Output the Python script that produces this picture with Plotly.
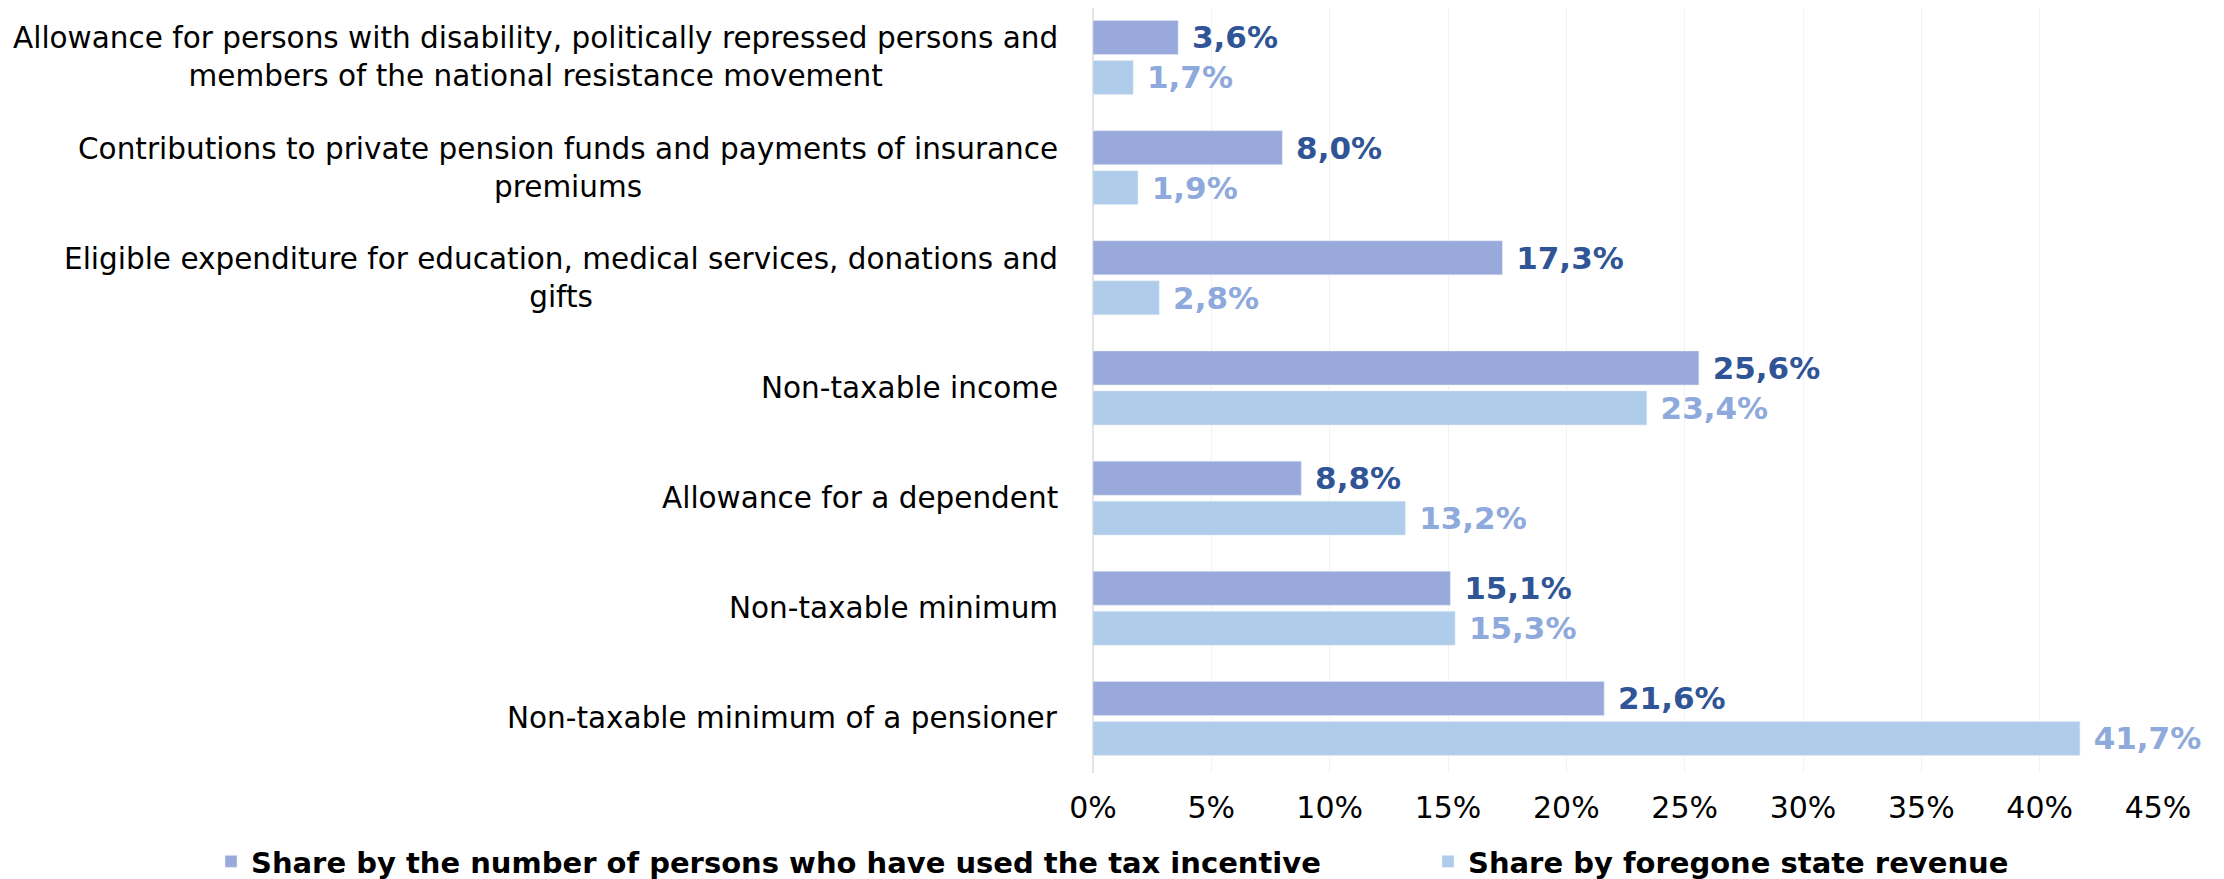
import plotly.graph_objects as go

categories = [
    "Allowance for persons with disability, politically repressed persons and<br>members of the national resistance movement",
    "Contributions to private pension funds and payments of insurance<br>premiums",
    "Eligible expenditure for education, medical services, donations and<br>gifts",
    "Non-taxable income",
    "Allowance for a dependent",
    "Non-taxable minimum",
    "Non-taxable minimum of a pensioner",
]
share_persons = [3.6, 8.0, 17.3, 25.6, 8.8, 15.1, 21.6]
share_revenue = [1.7, 1.9, 2.8, 23.4, 13.2, 15.3, 41.7]
ticks = [0, 5, 10, 15, 20, 25, 30, 35, 40, 45]

FONT = "Verdana, DejaVu Sans, sans-serif"


def fmt(v):
    return "\u00a0" + f"{v:.1f}".replace(".", ",") + "%"


fig = go.Figure()
fig.add_trace(go.Bar(
    y=categories, x=share_persons, orientation="h",
    name="Share by the number of persons who have used the tax incentive",
    marker=dict(color="#99A9DB"),
    text=[fmt(v) for v in share_persons], textposition="outside",
    textfont=dict(family=FONT, size=31, color="#2F5597", weight="bold"),
    cliponaxis=False, constraintext="none", legend="legend",
))
fig.add_trace(go.Bar(
    y=categories, x=share_revenue, orientation="h",
    name="Share by foregone state revenue",
    marker=dict(color="#AFCDEA"),
    text=[fmt(v) for v in share_revenue], textposition="outside",
    textfont=dict(family=FONT, size=31, color="#8EA9DB", weight="bold"),
    cliponaxis=False, constraintext="none", legend="legend2",
))

# category labels, centred multi-line like the original
for c in categories:
    fig.add_annotation(x=0, xref="paper", y=c, yref="y", text=c,
                       xanchor="right", align="center", showarrow=False,
                       xshift=-33, font=dict(family=FONT, size=29.5, color="#000000"))

legend_style = dict(orientation="h", xref="container", yref="container",
                    y=0, yanchor="bottom", xanchor="left",
                    font=dict(family=FONT, size=29, color="#000000", weight="bold"),
                    bgcolor="rgba(0,0,0,0)", itemclick=False)

fig.update_layout(
    width=2224, height=879,
    margin=dict(l=1085, r=74, t=0, b=114),
    paper_bgcolor="white", plot_bgcolor="white",
    barmode="group", bargap=0.274, bargroupgap=0.15,
    showlegend=True,
    font=dict(family=FONT, size=29, color="#000000"),
    legend=dict(x=203 / 2224, **legend_style),
    legend2=dict(x=1420 / 2224, **legend_style),
    xaxis=dict(range=[0, 45], tickvals=ticks, ticktext=[f"{t}%" for t in ticks],
               showgrid=True, gridcolor="#F2F2F2", gridwidth=1,
               zeroline=True, zerolinecolor="#E3E3E3", zerolinewidth=2,
               showline=False, ticks="", ticklabelstandoff=14,
               tickfont=dict(size=30)),
    yaxis=dict(range=[6.495, -0.449], showticklabels=False, showgrid=False,
               ticks="", showline=False),
)

fig.write_html("out.html")
